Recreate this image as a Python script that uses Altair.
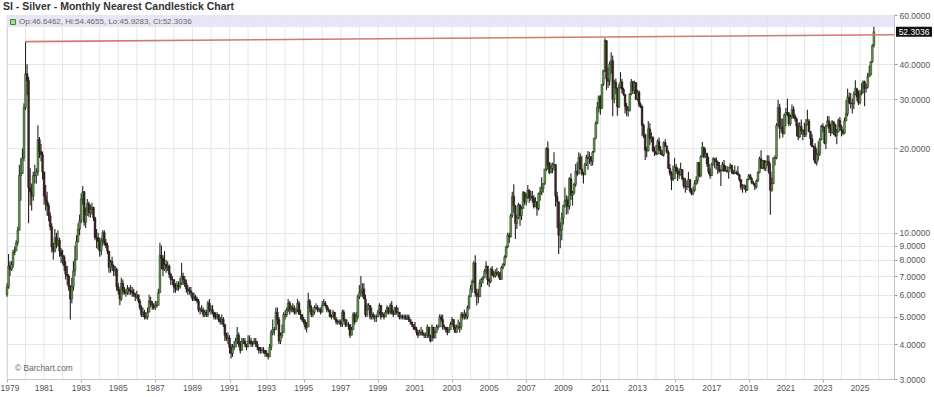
import altair as alt
import pandas as pd

# ---------------- data (monthly, nearest contract) ----------------
FIRST_MONTH = "1979-01-01"
OPEN0 = 6.0

CLOSE = [
    # 1979
    6.4, 7.6, 7.4, 7.7, 8.5, 8.6, 9.2, 10.2, 16.0, 16.3, 18.5, 28.0,
    # 1980
    37.0, 35.0, 14.5, 14.0, 13.5, 16.0, 16.0, 16.5, 21.5, 19.5, 19.0, 16.5,
    # 1981
    13.5, 13.0, 12.5, 11.5, 10.5, 8.9, 8.6, 9.6, 9.1, 9.4, 8.6, 8.3,
    # 1982
    8.2, 7.6, 7.1, 7.0, 6.4, 5.8, 6.4, 7.3, 8.0, 9.3, 10.3, 11.0,
    # 1983
    13.2, 14.0, 10.9, 11.6, 12.7, 11.8, 12.1, 12.3, 11.3, 9.6, 9.6, 9.3,
    # 1984
    8.6, 9.4, 10.0, 9.2, 9.0, 8.6, 7.5, 7.9, 7.6, 7.3, 7.4, 6.4,
    # 1985
    6.2, 5.8, 6.6, 6.2, 6.1, 6.1, 6.3, 6.2, 6.2, 6.1, 6.0, 5.9,
    # 1986
    6.0, 5.7, 5.4, 5.1, 5.2, 5.0, 5.0, 5.2, 5.7, 5.6, 5.5, 5.4,
    # 1987
    5.5, 5.5, 6.1, 8.3, 8.1, 7.4, 7.7, 7.5, 7.6, 7.1, 6.8, 6.8,
    # 1988
    6.4, 6.3, 6.5, 6.4, 6.6, 7.0, 6.8, 6.6, 6.3, 6.2, 6.2, 6.1,
    # 1989
    5.8, 5.9, 5.8, 5.7, 5.3, 5.3, 5.3, 5.1, 5.2, 5.1, 5.6, 5.3,
    # 1990
    5.3, 5.2, 5.0, 5.0, 5.1, 4.9, 4.8, 4.9, 4.7, 4.3, 4.2, 4.2,
    # 1991
    3.9, 3.7, 3.9, 3.9, 4.1, 4.3, 4.0, 3.8, 4.1, 4.1, 4.0, 3.9,
    # 1992
    4.1, 4.1, 4.0, 4.0, 4.1, 4.0, 3.9, 3.8, 3.8, 3.8, 3.8, 3.7,
    # 1993
    3.7, 3.6, 3.9, 4.4, 4.5, 4.5, 5.2, 4.9, 4.1, 4.3, 4.4, 5.1,
    # 1994
    5.1, 5.3, 5.6, 5.3, 5.4, 5.3, 5.2, 5.3, 5.6, 5.1, 5.1, 4.9,
    # 1995
    4.8, 4.6, 4.6, 5.7, 5.4, 5.1, 5.2, 5.4, 5.4, 5.3, 5.3, 5.2,
    # 1996
    5.5, 5.6, 5.5, 5.3, 5.3, 5.0, 5.0, 5.2, 4.9, 4.8, 4.8, 4.8,
    # 1997
    4.7, 5.2, 4.9, 4.7, 4.7, 4.7, 4.3, 4.5, 5.1, 4.8, 5.0, 5.9,
    # 1998
    6.1, 6.2, 6.3, 5.8, 5.1, 5.3, 5.5, 5.0, 5.1, 5.0, 5.0, 5.0,
    # 1999
    5.2, 5.5, 5.0, 5.1, 5.0, 5.2, 5.4, 5.2, 5.5, 5.2, 5.1, 5.4,
    # 2000
    5.2, 5.2, 5.0, 5.0, 5.0, 5.0, 4.9, 5.0, 4.9, 4.8, 4.7, 4.6,
    # 2001
    4.5, 4.4, 4.3, 4.4, 4.4, 4.3, 4.3, 4.3, 4.6, 4.3, 4.1, 4.6,
    # 2002
    4.2, 4.4, 4.6, 4.6, 5.0, 4.9, 4.6, 4.6, 4.5, 4.4, 4.5, 4.7,
    # 2003
    4.9, 4.6, 4.4, 4.6, 4.6, 4.6, 5.1, 5.0, 5.1, 5.0, 5.4, 5.9,
    # 2004
    6.3, 6.7, 7.8, 6.1, 6.0, 5.9, 6.6, 6.8, 6.9, 7.3, 7.6, 6.8,
    # 2005
    6.7, 7.4, 7.1, 7.0, 7.2, 7.1, 7.2, 6.8, 7.5, 7.7, 8.2, 8.9,
    # 2006
    9.8, 9.7, 11.5, 13.5, 12.5, 10.8, 11.3, 12.6, 11.5, 12.2, 13.9, 12.9,
    # 2007
    13.4, 14.2, 13.3, 13.5, 13.3, 12.4, 12.9, 12.2, 13.8, 14.0, 14.4, 15.0,
    # 2008
    16.9, 20.0, 17.4, 16.4, 17.0, 17.5, 17.5, 13.5, 12.9, 9.8, 10.2, 11.3,
    # 2009
    12.5, 13.0, 13.1, 12.4, 15.6, 13.6, 13.9, 14.9, 16.6, 16.2, 18.6, 16.9,
    # 2010
    16.2, 16.1, 17.5, 18.6, 18.4, 18.7, 18.0, 19.4, 21.8, 24.6, 28.1, 30.6,
    # 2011
    27.8, 33.9, 37.9, 48.6, 35.5, 34.8, 40.0, 41.2, 30.0, 34.5, 32.8, 28.2,
    # 2012
    33.1, 34.6, 32.5, 31.2, 28.3, 27.4, 27.4, 31.3, 34.6, 32.2, 34.4, 30.0,
    # 2013
    31.8, 28.7, 28.3, 24.2, 22.4, 19.7, 19.6, 23.5, 21.7, 21.9, 19.6, 19.4,
    # 2014
    19.1, 21.2, 19.8, 19.1, 19.0, 21.0, 20.4, 19.4, 17.0, 16.3, 15.5, 15.6,
    # 2015
    17.2, 16.6, 16.6, 16.1, 16.8, 15.6, 14.7, 14.6, 14.6, 15.5, 14.1, 13.8,
    # 2016
    14.2, 15.0, 15.4, 17.8, 16.0, 18.7, 20.2, 18.7, 19.2, 17.6, 16.5, 16.0,
    # 2017
    17.5, 18.4, 18.2, 17.9, 17.4, 16.6, 16.7, 17.5, 16.6, 16.7, 16.5, 17.1,
    # 2018
    17.4, 16.5, 16.3, 16.4, 16.4, 16.1, 15.5, 14.5, 14.7, 14.7, 14.2, 15.5,
    # 2019
    16.0, 15.6, 15.1, 15.0, 14.6, 15.3, 16.4, 18.4, 17.0, 18.1, 17.0, 17.9,
    # 2020
    18.0, 16.5, 14.2, 15.0, 18.5, 18.5, 24.2, 28.0, 23.6, 23.9, 22.6, 26.4,
    # 2021
    26.9, 26.7, 24.5, 25.9, 27.6, 26.1, 25.5, 24.0, 22.0, 24.0, 23.1, 23.3,
    # 2022
    22.4, 24.3, 25.1, 23.0, 21.7, 20.3, 20.3, 17.8, 19.0, 19.2, 21.5, 24.0,
    # 2023
    23.8, 20.9, 24.1, 25.1, 23.6, 22.8, 24.9, 24.3, 22.3, 22.9, 25.2, 23.9,
    # 2024
    23.2, 22.7, 25.1, 26.6, 30.5, 29.1, 29.0, 28.9, 31.2, 32.7, 30.6, 29.2,
    # 2025
    31.4, 31.7, 34.6, 32.8, 33.1, 36.1, 36.7, 40.8, 46.6462, 52.3036,
]

HIGH = [
    6.6, 8.4, 7.9, 7.9, 8.7, 8.9, 9.4, 10.5, 17.5, 18.5, 20.0, 29.0,
    48.2, 40.0, 36.0, 17.0, 15.0, 16.5, 17.5, 17.0, 24.2, 22.0, 20.8, 19.5,
    16.5, 14.8, 14.0, 12.8, 11.8, 10.8, 9.2, 10.3, 10.0, 10.2, 9.6, 8.8,
    8.7, 8.3, 7.9, 7.6, 7.1, 6.5, 6.9, 7.9, 9.0, 9.8, 10.8, 11.6,
    13.8, 14.7, 14.1, 12.3, 13.2, 12.9, 12.6, 12.8, 12.4, 11.4, 10.3, 10.0,
    9.6, 9.6, 10.2, 10.2, 9.5, 9.2, 8.6, 8.0, 8.2, 7.7, 7.6, 7.5,
    6.6, 6.3, 6.9, 6.8, 6.4, 6.3, 6.5, 6.4, 6.5, 6.4, 6.3, 6.1,
    6.2, 6.0, 5.8, 5.5, 5.4, 5.3, 5.2, 5.4, 6.0, 5.9, 5.7, 5.6,
    5.7, 5.7, 6.3, 9.2, 9.0, 8.3, 8.6, 8.0, 7.9, 7.7, 7.2, 7.0,
    6.8, 6.6, 6.7, 6.7, 6.9, 7.8, 7.2, 7.0, 6.8, 6.5, 6.4, 6.4,
    6.1, 6.1, 6.0, 5.9, 5.8, 5.4, 5.5, 5.4, 5.3, 5.3, 5.7, 5.8,
    5.5, 5.5, 5.2, 5.2, 5.2, 5.1, 5.0, 5.1, 5.0, 4.7, 4.4, 4.4,
    4.3, 4.0, 4.0, 4.1, 4.2, 4.6, 4.4, 4.1, 4.2, 4.2, 4.2, 4.0,
    4.3, 4.3, 4.2, 4.1, 4.2, 4.2, 4.1, 3.9, 3.9, 3.9, 3.9, 3.8,
    3.8, 3.7, 4.0, 4.5, 4.9, 4.6, 5.4, 5.4, 5.0, 4.4, 4.7, 5.2,
    5.3, 5.4, 5.8, 5.7, 5.5, 5.6, 5.5, 5.4, 5.8, 5.7, 5.3, 5.1,
    5.0, 4.9, 4.8, 6.1, 5.8, 5.5, 5.3, 5.5, 5.6, 5.5, 5.4, 5.4,
    5.7, 5.8, 5.7, 5.5, 5.4, 5.3, 5.1, 5.3, 5.2, 5.0, 4.9, 4.9,
    4.9, 5.3, 5.3, 4.9, 4.9, 4.8, 4.7, 4.6, 5.2, 5.2, 5.2, 6.0,
    6.5, 7.0, 6.6, 6.6, 6.0, 5.6, 5.6, 5.5, 5.4, 5.2, 5.1, 5.1,
    5.3, 5.6, 5.5, 5.2, 5.2, 5.3, 5.5, 5.4, 5.6, 5.7, 5.3, 5.4,
    5.5, 5.4, 5.2, 5.1, 5.1, 5.1, 5.1, 5.1, 5.1, 4.9, 4.8, 4.7,
    4.8, 4.6, 4.5, 4.5, 4.6, 4.5, 4.4, 4.4, 4.7, 4.6, 4.3, 4.7,
    4.6, 4.5, 4.7, 4.7, 5.1, 5.1, 5.1, 4.7, 4.6, 4.6, 4.6, 4.8,
    5.0, 4.9, 4.7, 4.7, 4.9, 4.8, 5.2, 5.2, 5.3, 5.2, 5.5, 6.0,
    6.5, 6.8, 7.9, 8.3, 6.3, 6.3, 6.8, 6.9, 7.0, 7.4, 7.9, 7.6,
    6.9, 7.5, 7.6, 7.3, 7.4, 7.5, 7.3, 7.2, 7.6, 7.8, 8.3, 9.0,
    10.0, 10.0, 11.7, 14.0, 14.9, 12.5, 11.6, 12.8, 12.6, 12.4, 14.1, 14.0,
    13.8, 14.8, 14.3, 14.1, 14.1, 13.6, 13.4, 12.9, 13.9, 14.6, 15.8, 15.0,
    16.9, 20.2, 21.2, 17.9, 17.8, 17.8, 19.4, 17.6, 14.0, 12.9, 10.9, 11.8,
    12.6, 14.5, 13.6, 13.5, 15.8, 16.3, 14.1, 15.1, 17.6, 17.9, 19.4, 19.2,
    18.8, 16.5, 17.8, 19.0, 19.6, 19.4, 18.8, 19.6, 21.8, 25.0, 29.3, 31.0,
    31.0, 34.0, 38.2, 49.5, 48.7, 39.0, 40.9, 44.2, 43.0, 35.2, 35.6, 33.0,
    34.1, 37.5, 35.4, 33.0, 31.3, 29.1, 28.3, 31.5, 35.4, 34.9, 34.9, 34.6,
    32.4, 32.2, 29.2, 28.5, 24.5, 22.6, 20.3, 25.1, 24.6, 22.8, 22.1, 20.3,
    20.6, 21.6, 21.9, 20.4, 19.7, 21.2, 21.6, 20.5, 19.7, 17.6, 16.6, 17.4,
    18.5, 17.6, 17.1, 17.0, 17.8, 16.9, 15.8, 15.7, 15.4, 16.5, 15.5, 14.4,
    14.6, 15.4, 15.9, 17.9, 17.9, 18.9, 21.1, 20.3, 20.0, 19.3, 18.7, 17.0,
    17.8, 18.6, 18.4, 18.6, 18.0, 17.9, 16.9, 17.9, 18.2, 17.4, 17.3, 17.1,
    17.7, 17.5, 16.8, 17.4, 16.7, 17.3, 16.2, 15.5, 14.9, 14.9, 14.8, 15.6,
    16.2, 16.2, 15.8, 15.3, 15.0, 15.5, 16.6, 18.7, 19.7, 18.2, 18.2, 18.1,
    18.9, 18.9, 17.7, 15.8, 18.6, 18.9, 24.6, 29.9, 28.9, 25.6, 25.6, 26.6,
    27.9, 30.1, 27.0, 26.4, 28.7, 28.3, 26.5, 25.8, 24.7, 24.8, 25.4, 23.4,
    24.7, 25.5, 27.5, 25.5, 23.1, 22.5, 20.5, 20.9, 20.0, 21.2, 21.8, 24.3,
    24.6, 23.9, 24.3, 26.1, 26.1, 24.5, 25.3, 25.0, 24.5, 23.5, 25.6, 25.9,
    24.3, 23.4, 25.8, 29.8, 32.7, 31.7, 31.6, 30.1, 32.0, 35.1, 33.0, 32.2,
    32.4, 34.2, 35.0, 35.0, 34.1, 37.3, 39.6, 41.1, 47.2, 54.4655,
]

LOW = [
    5.9, 6.3, 7.0, 7.3, 7.5, 8.3, 8.6, 9.0, 10.3, 13.0, 16.2, 18.0,
    27.5, 31.0, 10.8, 12.5, 12.0, 13.0, 15.0, 15.0, 16.0, 18.5, 18.0, 15.5,
    12.6, 12.0, 11.5, 11.0, 10.2, 8.5, 8.0, 8.5, 8.8, 8.9, 8.2, 7.8,
    7.7, 7.3, 6.8, 6.5, 6.2, 4.9, 5.6, 6.2, 7.0, 8.0, 9.2, 9.8,
    10.8, 12.6, 10.6, 10.4, 11.5, 11.4, 11.3, 11.6, 11.0, 9.4, 8.8, 8.7,
    8.2, 8.3, 9.0, 9.0, 8.8, 8.4, 7.2, 7.2, 7.3, 7.0, 7.0, 6.2,
    6.0, 5.5, 5.7, 6.0, 6.0, 5.9, 6.0, 6.0, 6.0, 5.9, 5.9, 5.7,
    5.8, 5.6, 5.3, 5.0, 5.0, 4.9, 4.9, 4.9, 5.2, 5.4, 5.3, 5.3,
    5.3, 5.4, 5.5, 6.1, 7.4, 7.0, 7.3, 7.2, 7.3, 6.9, 6.5, 6.5,
    6.1, 6.1, 6.2, 6.2, 6.3, 6.5, 6.5, 6.4, 6.1, 6.0, 6.0, 5.9,
    5.7, 5.7, 5.7, 5.6, 5.2, 5.1, 5.2, 5.0, 5.0, 5.0, 5.0, 5.2,
    5.1, 5.1, 4.9, 4.9, 4.9, 4.8, 4.7, 4.7, 4.6, 4.1, 4.1, 4.0,
    3.7, 3.55, 3.6, 3.8, 3.9, 4.0, 3.9, 3.7, 3.8, 4.0, 3.9, 3.8,
    3.9, 4.0, 3.9, 3.9, 4.0, 3.9, 3.8, 3.7, 3.7, 3.7, 3.7, 3.6,
    3.6, 3.52, 3.6, 3.8, 4.3, 4.3, 4.5, 4.7, 4.0, 4.0, 4.2, 4.4,
    4.9, 5.0, 5.2, 5.1, 5.2, 5.2, 5.1, 5.1, 5.2, 5.1, 4.9, 4.8,
    4.7, 4.5, 4.4, 4.6, 5.2, 5.0, 5.0, 5.1, 5.3, 5.2, 5.2, 5.1,
    5.2, 5.5, 5.4, 5.2, 5.2, 5.0, 4.9, 5.0, 4.9, 4.7, 4.7, 4.7,
    4.6, 4.6, 4.8, 4.6, 4.6, 4.5, 4.2, 4.3, 4.5, 4.7, 4.8, 4.9,
    5.8, 5.9, 5.9, 5.8, 5.0, 5.0, 5.3, 4.9, 4.9, 4.9, 4.8, 4.8,
    5.0, 5.1, 4.9, 5.0, 4.9, 5.0, 5.1, 5.1, 5.1, 5.1, 5.0, 5.1,
    5.1, 5.0, 4.9, 4.9, 4.9, 4.9, 4.9, 4.9, 4.8, 4.7, 4.6, 4.5,
    4.5, 4.3, 4.2, 4.3, 4.3, 4.3, 4.2, 4.2, 4.2, 4.2, 4.05, 4.1,
    4.2, 4.2, 4.4, 4.5, 4.6, 4.8, 4.5, 4.5, 4.4, 4.3, 4.4, 4.5,
    4.7, 4.5, 4.4, 4.4, 4.5, 4.4, 4.5, 4.9, 4.9, 4.9, 4.9, 5.3,
    5.9, 6.1, 6.6, 5.9, 5.5, 5.6, 5.9, 6.4, 6.6, 6.9, 7.1, 6.5,
    6.4, 6.6, 7.0, 6.9, 6.9, 7.0, 6.9, 6.8, 6.8, 7.4, 7.6, 8.1,
    8.8, 9.2, 9.6, 11.3, 11.8, 9.5, 10.3, 11.2, 10.6, 11.1, 12.2, 12.6,
    12.5, 13.2, 12.8, 13.0, 12.8, 12.2, 12.4, 11.5, 12.0, 13.0, 13.6, 13.9,
    14.8, 16.6, 16.8, 16.2, 16.3, 16.3, 16.7, 12.4, 10.4, 8.4, 8.8, 9.4,
    10.7, 12.3, 11.6, 11.7, 12.1, 13.1, 12.5, 13.7, 14.6, 15.9, 16.2, 16.8,
    16.0, 15.0, 16.1, 17.3, 16.8, 17.6, 17.3, 17.4, 19.4, 21.6, 24.4, 26.9,
    26.4, 27.8, 33.5, 37.5, 32.3, 33.0, 33.6, 37.0, 26.1, 29.0, 31.3, 26.2,
    27.9, 32.8, 31.5, 30.9, 26.7, 26.1, 26.0, 27.1, 31.0, 31.3, 31.3, 29.8,
    29.6, 28.1, 27.9, 22.1, 21.8, 18.2, 18.6, 19.5, 20.6, 21.0, 19.5, 18.8,
    18.9, 19.0, 19.6, 19.0, 18.8, 18.7, 20.3, 19.2, 16.9, 16.0, 14.2, 15.3,
    15.6, 16.2, 15.3, 15.6, 16.0, 15.4, 14.4, 13.9, 14.2, 14.5, 13.9, 13.6,
    13.6, 14.0, 14.8, 15.0, 15.8, 15.8, 18.6, 18.4, 18.6, 17.2, 16.2, 15.6,
    15.9, 17.4, 17.0, 16.8, 16.2, 16.4, 14.7, 16.6, 16.5, 16.6, 16.4, 15.6,
    16.9, 16.2, 16.1, 16.2, 16.1, 16.0, 15.2, 14.2, 13.9, 14.3, 13.9, 14.1,
    15.4, 15.5, 14.9, 14.8, 14.2, 14.4, 15.2, 16.3, 16.9, 16.9, 16.7, 16.6,
    17.3, 16.2, 11.6, 14.0, 14.9, 17.4, 18.3, 23.9, 21.7, 22.8, 21.9, 22.5,
    24.0, 26.1, 24.0, 24.1, 25.5, 25.6, 24.9, 22.1, 21.4, 21.8, 22.4, 21.4,
    22.0, 22.0, 24.2, 22.8, 20.5, 20.2, 18.1, 17.6, 17.4, 18.1, 18.8, 21.4,
    22.8, 20.7, 19.9, 24.0, 22.7, 22.1, 22.6, 22.3, 22.0, 20.7, 22.8, 23.1,
    22.1, 22.3, 22.5, 25.0, 26.1, 28.8, 27.8, 26.7, 27.7, 31.0, 29.5, 28.6,
    28.8, 31.0, 31.5, 28.3, 31.7, 32.8, 36.0, 36.5, 40.5, 45.9283,
]

TREND_DATES = ["1980-01-01T00:00:00", "2026-11-01T00:00:00"]
TREND_VALUES = [48.2, 51.0]

Y_TICKS = [3, 4, 5, 6, 7, 8, 9, 10, 20, 30, 40, 60]
GRID_YEARS = list(range(1979, 2027))
LABEL_YEARS = list(range(1981, 2027, 2))
FIRST_LABEL_YEAR = 1979
LAST_PRICE = 52.3036
TITLE = "SI - Silver - Monthly Nearest Candlestick Chart"
INFO = "Op:46.6462, Hi:54.4655, Lo:45.9283, Cl:52.3036"
CREDIT = "\u00a9 Barchart.com"

# ---------------- build tables ----------------
dates = pd.date_range(FIRST_MONTH, periods=len(CLOSE), freq="MS")
opens = [OPEN0] + CLOSE[:-1]
df = pd.DataFrame({
    "date": dates.strftime("%Y-%m-%dT00:00:00"),
    "open": opens,
    "close": CLOSE,
    "high": [max(h, o, c) for h, o, c in zip(HIGH, opens, CLOSE)],
    "low": [min(l, o, c) for l, o, c in zip(LOW, opens, CLOSE)],
})
grid_df = pd.DataFrame({"date": [f"{y}-01-01T00:00:00" for y in GRID_YEARS]})
lab_df = pd.DataFrame({"date": [f"{y}-01-01T00:00:00" for y in LABEL_YEARS],
                       "lab": [str(y) for y in LABEL_YEARS]})
lab0_df = pd.DataFrame({"date": [f"{FIRST_LABEL_YEAR}-01-01T00:00:00"],
                        "lab": [str(FIRST_LABEL_YEAR)]})

W, H = 887, 364
FONT = "Liberation Sans"

xscale = alt.Scale(domain=[alt.DateTime(year=1979, month=1, date=1),
                           alt.DateTime(year=2026, month=11, date=1)],
                   padding=0)
yscale = alt.Scale(type="log", domain=[3, 60], nice=False)

xaxis = alt.Axis(
    values=[alt.DateTime(year=y, month=1, date=1) for y in [FIRST_LABEL_YEAR] + LABEL_YEARS],
    labels=False, title=None, grid=False, tickSize=3, tickColor="#aaa",
    domainColor="#c4c4c4",
)
yaxis = alt.Axis(
    orient="right", values=Y_TICKS, format=".4f", title=None, grid=True,
    gridColor="#e6e6e6", tickSize=3, tickColor="#999", domainColor="#c4c4c4",
    labelFont=FONT, labelFontSize=8.5, labelColor="#555", labelPadding=2,
    labelOverlap=False,
)

one = pd.DataFrame({"k": [0]})

band = alt.Chart(one).mark_rect(color="#e6e6f6").encode(
    x=alt.value(0), x2=alt.value(W), y=alt.value(0), y2=alt.value(12)
)

vgrid = alt.Chart(grid_df).mark_rule(color="#e6e6e6", strokeWidth=1).encode(
    x=alt.X("date:T", scale=xscale, axis=xaxis),
)

base = alt.Chart(df)
up = "datum.close >= datum.open"

wicks = base.mark_rule(strokeWidth=1.1).encode(
    x=alt.X("date:T", scale=xscale),
    y=alt.Y("low:Q", scale=yscale, axis=yaxis),
    y2="high:Q",
    color=alt.condition(up, alt.value("#1f2a1c"), alt.value("#2a1c1c")),
)

bodies = base.mark_bar(size=1.9, stroke="#1b1b1b", strokeWidth=0.4).encode(
    x=alt.X("date:T", scale=xscale),
    y=alt.Y("open:Q", scale=yscale),
    y2="close:Q",
    color=alt.condition(up, alt.value("#5a9846"), alt.value("#3e2020")),
)

trend_df = pd.DataFrame({"date": TREND_DATES, "v": TREND_VALUES})
trend = alt.Chart(trend_df).mark_line(color="#d27a66", strokeWidth=1.6).encode(
    x=alt.X("date:T", scale=xscale),
    y=alt.Y("v:Q", scale=yscale),
)

xlabels = alt.Chart(lab_df).mark_text(
    align="center", baseline="middle", font=FONT, fontSize=8.5, color="#555"
).encode(x=alt.X("date:T", scale=xscale), y=alt.value(H + 9), text="lab:N")

xlabel0 = alt.Chart(lab0_df).mark_text(
    align="center", baseline="middle", font=FONT, fontSize=8.5, color="#555", dx=3
).encode(x=alt.X("date:T", scale=xscale), y=alt.value(H + 9), text="lab:N")

icon = alt.Chart(one).mark_rect(fill="#a8d89a", stroke="#3b8a2c", strokeWidth=1).encode(
    x=alt.value(3.5), x2=alt.value(8.5), y=alt.value(4.5), y2=alt.value(9.5)
)
info = alt.Chart(one).mark_text(
    text=INFO, align="left", baseline="middle", font=FONT, fontSize=8, color="#666"
).encode(x=alt.value(12), y=alt.value(7))

title = alt.Chart(one).mark_text(
    text=TITLE, align="left", baseline="middle", font=FONT, fontSize=10.5,
    fontWeight="bold", color="#333"
).encode(x=alt.value(-4), y=alt.value(-8))

credit = alt.Chart(one).mark_text(
    text=CREDIT, align="left", baseline="middle", font=FONT, fontSize=8.3, color="#666"
).encode(x=alt.value(8), y=alt.value(354))

last_df = pd.DataFrame({"p": [LAST_PRICE], "t": [f"{LAST_PRICE:.4f}"]})
last_box = alt.Chart(last_df).mark_rect(color="#111", height=10).encode(
    x=alt.value(889), x2=alt.value(925), y=alt.Y("p:Q", scale=yscale)
)
last_txt = alt.Chart(last_df).mark_text(
    align="center", baseline="middle", font=FONT, fontSize=8.5, color="#fff"
).encode(x=alt.value(907), y=alt.Y("p:Q", scale=yscale), text="t:N")

chart = alt.layer(
    band, vgrid, wicks, bodies, trend, xlabels, xlabel0,
    icon, info, title, credit, last_box, last_txt
).properties(
    width=W, height=H,
    autosize=alt.AutoSizeParams(type="none"),
    padding={"left": 7, "top": 15, "right": 40, "bottom": 18},
    background="#ffffff",
).configure_view(stroke="#c8c8c8", strokeWidth=1)

chart.save("out.html", embed_options={"renderer": "svg", "actions": False})
